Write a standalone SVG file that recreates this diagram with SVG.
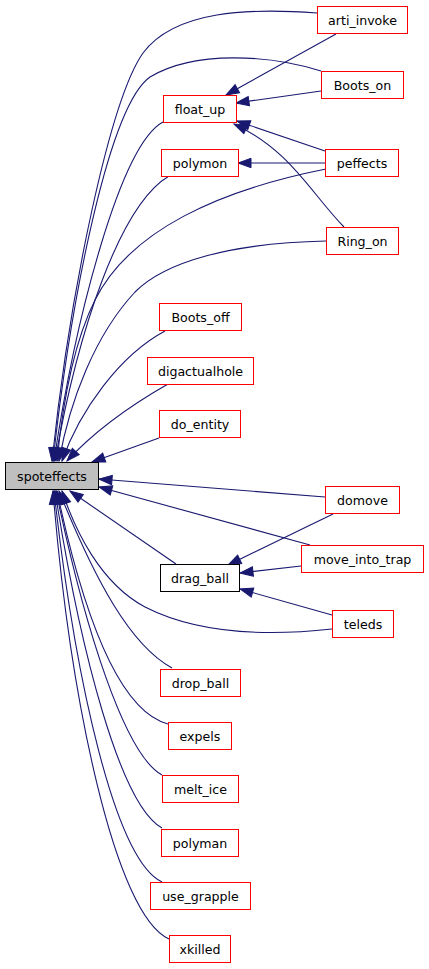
<svg xmlns="http://www.w3.org/2000/svg" width="429" height="969" viewBox="0 0 429 969">
<defs>
<style>
.n rect{fill:#ffffff;stroke:#ff0000;stroke-width:1}
.n text{font-family:"DejaVu Sans",sans-serif;font-size:12.6px;fill:#000000;text-anchor:middle}
.n.cur rect{fill:#bfbfbf;stroke:#000000}
.n.blk rect{stroke:#000000}
.e path{fill:none;stroke:#191970;stroke-width:1.1;marker-end:url(#ah)}
</style>
<marker id="ah" markerWidth="14" markerHeight="10" refX="13" refY="4.7" orient="auto" markerUnits="userSpaceOnUse" overflow="visible">
<polygon points="0,0 13,4.7 0,9.4" fill="#191970" stroke="#191970" stroke-width="1"/>
</marker>
</defs>
<rect width="429" height="969" fill="#ffffff"/>
<g id="edges" class="e">
<path d="M317,13 C250,8 175,10 143,53 C110,100 70,290 52,461"/>
<path d="M321,71 C270,55 195,50 150,77 C110,105 72,290 53,461"/>
<path d="M163,122 C120,145 75,320 54,461"/>
<path d="M169,176 C120,205 78,330 55,461"/>
<path d="M326,169 C220,190 130,230 95,300 C75,340 63,400 57,461"/>
<path d="M326,241 C230,243 165,262 135,292 C95,335 70,400 59,461"/>
<path d="M165,331 C120,355 80,410 62,461"/>
<path d="M168,384 C140,400 100,425 67,461"/>
<path d="M159,438 L92,462"/>
<path d="M325,497 L99,479"/>
<path d="M310,545 L99,487"/>
<path d="M176,564 L70,491"/>
<path d="M332,629 C250,638 190,630 145,607 C100,583 75,530 62,491"/>
<path d="M172,668 C130,645 95,580 59,491"/>
<path d="M168,724 C115,710 80,600 57,491"/>
<path d="M162,775 C125,755 85,630 56,491"/>
<path d="M162,828 C120,805 80,650 55,491"/>
<path d="M162,882 C115,860 75,680 54,491"/>
<path d="M169,939 C115,915 70,700 53,491"/>
<path d="M336,34 L226,95"/>
<path d="M321,91 L236,103"/>
<path d="M325,151 L237,121"/>
<path d="M344,227 C310,192 290,150 234,124"/>
<path d="M326,163 L238,163"/>
<path d="M333,514 L228,565"/>
<path d="M301,566 L240,573"/>
<path d="M332,615 L240,589"/>
</g>
<g id="arti_invoke" class="n"><rect x="317.5" y="6.5" width="90" height="27"/><text x="362.5" y="24.5">arti_invoke</text></g>
<g id="Boots_on" class="n"><rect x="321.5" y="71.5" width="82" height="27"/><text x="362.5" y="89.5">Boots_on</text></g>
<g id="float_up" class="n"><rect x="163.5" y="95.5" width="73" height="27"/><text x="200" y="113.5">float_up</text></g>
<g id="polymon" class="n"><rect x="161.5" y="149.5" width="77" height="27"/><text x="200" y="167.5">polymon</text></g>
<g id="peffects" class="n"><rect x="325.5" y="149.5" width="73" height="27"/><text x="362" y="167.5">peffects</text></g>
<g id="Ring_on" class="n"><rect x="326.5" y="227.5" width="72" height="27"/><text x="362.5" y="245.5">Ring_on</text></g>
<g id="Boots_off" class="n"><rect x="159.5" y="303.5" width="82" height="27"/><text x="200.5" y="321.5">Boots_off</text></g>
<g id="digactualhole" class="n"><rect x="147.5" y="357.5" width="106" height="27"/><text x="200.5" y="375.5">digactualhole</text></g>
<g id="do_entity" class="n"><rect x="159.5" y="410.5" width="81" height="27"/><text x="200" y="428.5">do_entity</text></g>
<g id="spoteffects" class="n cur"><rect x="5.5" y="462.5" width="93" height="27"/><text x="52" y="480.5">spoteffects</text></g>
<g id="domove" class="n"><rect x="325.5" y="486.5" width="74" height="27"/><text x="362.5" y="504.5">domove</text></g>
<g id="move_into_trap" class="n"><rect x="301.5" y="545.5" width="122" height="27"/><text x="362.5" y="563.5">move_into_trap</text></g>
<g id="drag_ball" class="n blk"><rect x="160.5" y="564.5" width="79" height="27"/><text x="200" y="582.5">drag_ball</text></g>
<g id="teleds" class="n"><rect x="332.5" y="610.5" width="61" height="27"/><text x="363" y="628.5">teleds</text></g>
<g id="drop_ball" class="n"><rect x="160.5" y="669.5" width="80" height="27"/><text x="200.5" y="687.5">drop_ball</text></g>
<g id="expels" class="n"><rect x="168.5" y="722.5" width="63" height="27"/><text x="200" y="740.5">expels</text></g>
<g id="melt_ice" class="n"><rect x="162.5" y="775.5" width="76" height="27"/><text x="200.5" y="793.5">melt_ice</text></g>
<g id="polyman" class="n"><rect x="161.5" y="829.5" width="77" height="27"/><text x="200" y="847.5">polyman</text></g>
<g id="use_grapple" class="n"><rect x="150.5" y="882.5" width="100" height="27"/><text x="200.5" y="900.5">use_grapple</text></g>
<g id="xkilled" class="n"><rect x="169.5" y="935.5" width="61" height="27"/><text x="200" y="953.5">xkilled</text></g>
</svg>
